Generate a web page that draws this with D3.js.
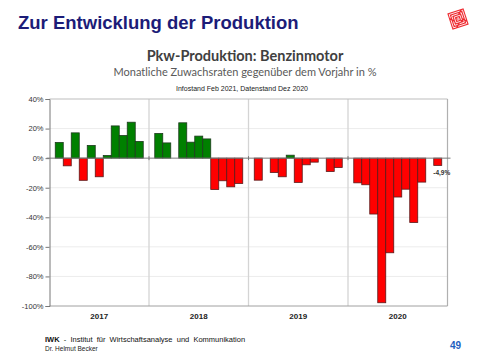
<!DOCTYPE html>
<html><head><meta charset="utf-8">
<script src="https://cdn.jsdelivr.net/npm/d3@7"></script>
<style>
html,body{margin:0;padding:0;background:#fff;}
svg{display:block;}
</style></head>
<body>
<script>
// ---- Data ----
const years = ["2017", "2018", "2019", "2020"];
const months = ["m1","m2","m3","m4","m5","m6","m7","m8","m9","m10","m11"];
const values2017 = [10.6, -5.2, 17.1, -15.0, 8.6, -12.6, 1.8, 21.8, 15.3, 24.3, 11.3];
const values2018 = [16.7, 10.3, 0, 23.9, 10.8, 14.9, 13.0, -21.2, -15.3, -19.4, -17.1];
const values2019 = [-14.9, 0, -9.7, -12.6, 2.0, -16.4, -4.5, -2.7, 0, -9.0, -6.3];
const values2020 = [-16.7, -18.0, -37.8, -97.8, -64.0, -26.3, -21.0, -43.5, -16.2, 0, -4.9];
const yTicks = [40, 20, 0, -20, -40, -60, -80, -100];
const lastLabel = "-4,9%";

(function () {
const seriesByYear = [values2017, values2018, values2019, values2020];
const data = [];
years.forEach((yr, i) => seriesByYear[i].forEach((v, j) => data.push({year: yr, month: months[j], value: v})));

const W = 480, H = 360;
const svg = d3.select("body").append("svg").attr("width", W).attr("height", H);

// Titles
svg.append("text").attr("x", 18).attr("y", 29)
  .attr("font-family", "Arial, 'Liberation Sans', sans-serif").attr("font-weight", "bold")
  .attr("font-size", 18.5).attr("fill", "#1c1c78").text("Zur Entwicklung der Produktion");

svg.append("text").attr("x", 245).attr("y", 61).attr("text-anchor", "middle")
  .attr("font-family", "Lato, 'Open Sans', sans-serif").attr("font-weight", "bold")
  .attr("font-size", 14.5).attr("fill", "#404040").text("Pkw-Produktion: Benzinmotor");

svg.append("text").attr("x", 245).attr("y", 76).attr("text-anchor", "middle")
  .attr("font-family", "Lato, 'Open Sans', sans-serif")
  .attr("font-size", 11).attr("fill", "#595959").text("Monatliche Zuwachsraten gegenüber dem Vorjahr in %");

svg.append("text").attr("x", 242).attr("y", 91).attr("text-anchor", "middle")
  .attr("font-family", "Arial, 'Liberation Sans', sans-serif")
  .attr("font-size", 7).attr("fill", "#222").text("Infostand Feb 2021, Datenstand Dez 2020");

// Logo
const logo = svg.append("g").attr("transform", "translate(458,19) rotate(-18)");
logo.append("rect").attr("x", -8.5).attr("y", -8.5).attr("width", 17).attr("height", 17).attr("fill", "#ee2a30");
[7, 5, 3, 1].forEach((s, i) => {
  logo.append("rect").attr("x", -s).attr("y", -s).attr("width", 2*s).attr("height", 2*s)
    .attr("fill", "none").attr("stroke", "#fff").attr("stroke-width", 0.8)
    .attr("stroke-dasharray", i % 2 ? "7 2" : "11 2");
});

// Plot
const pLeft = 49.5, pRight = 447.5, pTop = 99, pBottom = 306;
const y = d3.scaleLinear().domain([-100, 40]).range([pBottom, pTop]);
const x0 = d3.scaleBand().domain(years).range([pLeft, pRight]).padding(0);
const x1 = d3.scaleBand().domain(months).range([0, x0.bandwidth()]).paddingInner(0).paddingOuter(0.72);

const g = svg.append("g");
g.selectAll("line.hg").data(yTicks.filter(t => t !== 0 && t !== 40 && t !== -100)).enter().append("line")
  .attr("x1", pLeft).attr("x2", pRight).attr("y1", d => y(d)).attr("y2", d => y(d))
  .attr("stroke", "#ececec").attr("stroke-width", 1);
g.selectAll("line.vg").data(years.slice(1)).enter().append("line")
  .attr("x1", d => x0(d)).attr("x2", d => x0(d)).attr("y1", pTop).attr("y2", pBottom)
  .attr("stroke", "#d4d4d4").attr("stroke-width", 1.3);
g.append("line").attr("x1", pLeft).attr("x2", pRight).attr("y1", pTop).attr("y2", pTop).attr("stroke", "#bdbdbd");
g.append("line").attr("x1", pRight).attr("x2", pRight).attr("y1", pTop).attr("y2", pBottom).attr("stroke", "#b0b0b0").attr("stroke-width", 1.2);
g.append("line").attr("x1", pLeft).attr("x2", pRight).attr("y1", pBottom).attr("y2", pBottom).attr("stroke", "#a0a0a0");

g.selectAll("rect.bar").data(data).enter().append("rect")
  .attr("x", d => x0(d.year) + x1(d.month))
  .attr("width", x1.bandwidth())
  .attr("y", d => y(Math.max(0, d.value)))
  .attr("height", d => Math.abs(y(d.value) - y(0)))
  .attr("fill", d => d.value >= 0 ? "#008000" : "#ff0000")
  .attr("stroke", d => d.value >= 0 ? "#1e3a1e" : "#5a1a1a")
  .attr("stroke-width", 0.8);

g.append("line").attr("x1", pLeft - 3).attr("x2", pRight + 3).attr("y1", y(0)).attr("y2", y(0))
  .attr("stroke", "#7a7a7a").attr("stroke-width", 1);
g.selectAll("line.zt").data(years.slice(1)).enter().append("line")
  .attr("x1", d => x0(d)).attr("x2", d => x0(d)).attr("y1", y(0) - 2).attr("y2", y(0) + 2)
  .attr("stroke", "#7a7a7a");

const yAxis = d3.axisLeft(y).tickValues(yTicks).tickSize(4).tickFormat(d => d + "%");
const ya = svg.append("g").attr("transform", `translate(${pLeft},0)`).call(yAxis);
ya.select(".domain").attr("stroke", "#777");
ya.selectAll(".tick line").attr("stroke", "#777");
ya.selectAll(".tick text").attr("font-family", "Arial, 'Liberation Sans', sans-serif")
  .attr("font-size", 7.5).attr("fill", "#333").attr("x", -6);

const xAxis = d3.axisBottom(x0).tickSize(0).tickPadding(7);
const xa = svg.append("g").attr("transform", `translate(0,${pBottom})`).call(xAxis);
xa.select(".domain").remove();
xa.selectAll(".tick text").attr("font-family", "Arial, 'Liberation Sans', sans-serif")
  .attr("font-size", 8).attr("font-weight", "bold").attr("fill", "#222");

const last = data[data.length - 1];
svg.append("text").attr("x", x0(last.year) + x1(last.month) + x1.bandwidth() / 2 + 4)
  .attr("y", y(last.value) + 10).attr("text-anchor", "middle")
  .attr("font-family", "Arial, 'Liberation Sans', sans-serif").attr("font-weight", "bold")
  .attr("font-size", 6.5).attr("fill", "#333").text(lastLabel);

const f = svg.append("text").attr("x", 45).attr("y", 342).attr("xml:space", "preserve")
  .attr("font-family", "Arial, 'Liberation Sans', sans-serif").attr("font-size", 7.5).attr("fill", "#111");
f.append("tspan").attr("font-weight", "bold").text("IWK");
f.append("tspan").text("  -  Institut  für  Wirtschaftsanalyse  und  Kommunikation");
svg.append("text").attr("x", 45).attr("y", 351)
  .attr("font-family", "Arial, 'Liberation Sans', sans-serif").attr("font-size", 6.5).attr("fill", "#222")
  .text("Dr. Helmut Becker");
svg.append("text").attr("x", 461).attr("y", 349).attr("text-anchor", "end")
  .attr("font-family", "Arial, 'Liberation Sans', sans-serif").attr("font-weight", "bold")
  .attr("font-size", 10).attr("fill", "#1f5fbf").text("49");
})();
</script>
</body></html>
